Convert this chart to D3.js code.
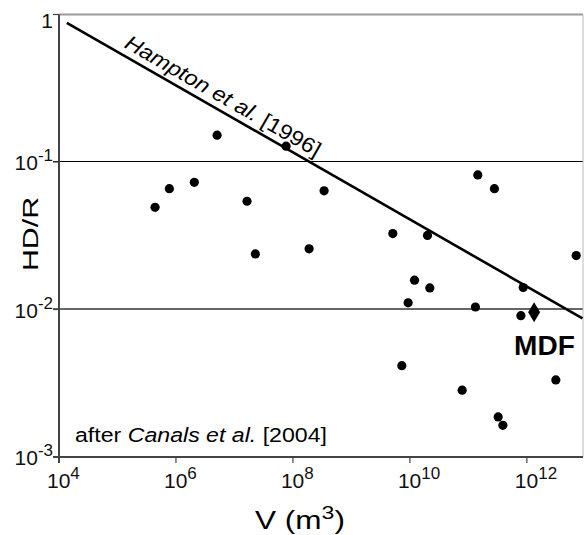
<!DOCTYPE html>
<html><head><meta charset="utf-8">
<script src="https://cdn.jsdelivr.net/npm/d3@7"></script>
<style>body{margin:0;background:#fff}svg{display:block;font-family:"Liberation Sans",Arial,Helvetica,sans-serif}</style>
</head><body><svg id="c" width="585" height="535"></svg>
<script>
// Landslide volume V (m3) vs HD/R
const volumes = [4.39e5, 7.71e5, 2.06e6, 5.05e6, 1.64e7, 2.28e7, 7.64e7, 1.89e8, 3.41e8,
  5.11e9, 2.0e10, 1.20e10, 2.19e10, 9.33e9, 7.28e9, 7.83e10, 1.32e11, 1.45e11, 2.79e11,
  3.23e11, 3.89e11, 8.65e11, 7.91e11, 3.13e12, 6.98e12];
const ratios = [0.0493, 0.0659, 0.0728, 0.152, 0.0542, 0.0238, 0.128, 0.0258, 0.0638,
  0.0327, 0.0318, 0.0158, 0.0140, 0.0111, 0.00416, 0.00284, 0.0104, 0.0817, 0.0659,
  0.00187, 0.00164, 0.0141, 0.00908, 0.00333, 0.0232];
const mdfVolume = [1.33e12];
const mdfRatio = [0.00957];
const mdfLabel = ["MDF"];
const hamptonV = [1.36e4, 8.93e12];
const hamptonR = [0.879, 0.00871];
const xTickExps = [4, 6, 8, 10, 12];
const yTickExps = [0, -1, -2, -3];
const gridExps = [-1, -2];

const svg = d3.select("#c");
const L = 59, R = 583, T = 14.5, B = 457;
const x = d3.scaleLog().domain([1e4, Math.pow(10, 12.96)]).range([L, R]);
const y = d3.scaleLog().domain([1e-3, 1]).range([B, T]);

// grid lines
svg.selectAll("line.grid").data(gridExps).enter().append("line")
  .attr("x1", L - 6).attr("x2", R)
  .attr("y1", d => y(Math.pow(10, d)) - 0.5).attr("y2", d => y(Math.pow(10, d)) - 0.5)
  .attr("stroke", d => d === -1 ? "#000" : "#666")
  .attr("stroke-width", d => d === -1 ? 1 : 2);

// frame
svg.append("line").attr("x1", L).attr("x2", R).attr("y1", T).attr("y2", T)
  .attr("stroke", "#9a9a9a").attr("stroke-width", 2.2);
svg.append("line").attr("x1", R).attr("x2", R).attr("y1", T).attr("y2", B)
  .attr("stroke", "#bbb").attr("stroke-width", 1);
svg.append("line").attr("x1", L - 6).attr("x2", R).attr("y1", B).attr("y2", B)
  .attr("stroke", "#444").attr("stroke-width", 2);
svg.append("line").attr("x1", L).attr("x2", L).attr("y1", T).attr("y2", B + 6)
  .attr("stroke", "#444").attr("stroke-width", 2);

// ticks
svg.selectAll("line.xt").data(xTickExps).enter().append("line")
  .attr("x1", d => x(Math.pow(10, d))).attr("x2", d => x(Math.pow(10, d)))
  .attr("y1", B).attr("y2", B + 6).attr("stroke", "#444").attr("stroke-width", 1.2);
svg.selectAll("line.yt").data(yTickExps).enter().append("line")
  .attr("x1", L - 6).attr("x2", L)
  .attr("y1", d => y(Math.pow(10, d))).attr("y2", d => y(Math.pow(10, d)))
  .attr("stroke", "#444").attr("stroke-width", 1.2);

// x tick labels
const xl = svg.selectAll("text.xl").data(xTickExps).enter().append("text")
  .attr("x", d => x(Math.pow(10, d)) - 12).attr("y", B + 31)
  .attr("font-size", 21).attr("fill", "#111");
xl.append("tspan").text("10");
xl.append("tspan").attr("dy", -9).attr("font-size", 17).text(d => d);

// y tick labels
const yl = svg.selectAll("text.yl").data(yTickExps).enter().append("text")
  .attr("x", 53).attr("y", d => y(Math.pow(10, d)) + (d === 0 ? 13 : 8))
  .attr("text-anchor", "end").attr("font-size", 21).attr("fill", "#111");
yl.each(function(d) {
  const t = d3.select(this);
  if (d === 0) { t.append("tspan").text("1"); }
  else {
    t.append("tspan").text("10");
    t.append("tspan").attr("dy", -9).attr("font-size", 17).text("-" + Math.abs(d));
  }
});

// Hampton line
const p0 = [x(hamptonV[0]), y(hamptonR[0])];
const p1 = [x(hamptonV[1]), y(hamptonR[1])];
svg.append("line").attr("x1", p0[0]).attr("y1", p0[1]).attr("x2", p1[0]).attr("y2", p1[1])
  .attr("stroke", "#000").attr("stroke-width", 2.6);
const ang = Math.atan2(p1[1] - p0[1], p1[0] - p0[0]);
const s0 = 61;
const hp = [p0[0] + s0 * Math.cos(ang), p0[1] + s0 * Math.sin(ang)];
const ht = svg.append("text")
  .attr("transform", `translate(${hp[0]},${hp[1]}) rotate(${ang * 180 / Math.PI})`)
  .attr("x", 0).attr("y", -7).attr("font-size", 21).attr("fill", "#000")
  .attr("textLength", 222).attr("lengthAdjust", "spacingAndGlyphs");
ht.append("tspan").attr("font-style", "italic").text("Hampton et al.");
ht.append("tspan").text(" [1996]");

// points
svg.selectAll("circle.pt").data(volumes).enter().append("circle")
  .attr("cx", d => x(d)).attr("cy", (d, i) => y(ratios[i])).attr("r", 4.6).attr("fill", "#000");

// MDF diamond
svg.selectAll("path.mdf").data(mdfVolume).enter().append("path")
  .attr("transform", (d, i) => `translate(${x(d)},${y(mdfRatio[i])})`)
  .attr("d", "M0,-10L6,0L0,10L-6,0Z").attr("fill", "#000");
svg.selectAll("text.mdf").data(mdfVolume).enter().append("text")
  .attr("x", d => x(d) - 20).attr("y", (d, i) => y(mdfRatio[i]) + 43)
  .attr("font-size", 28).attr("font-weight", "bold").attr("fill", "#000")
  .text((d, i) => mdfLabel[i]);

// source note
const cn = svg.append("text").attr("x", 75).attr("y", 442).attr("font-size", 20).attr("fill", "#000")
  .attr("textLength", 252).attr("lengthAdjust", "spacingAndGlyphs");
cn.append("tspan").text("after ");
cn.append("tspan").attr("font-style", "italic").text("Canals et al.");
cn.append("tspan").text(" [2004]");

// axis titles
svg.append("text").attr("transform", "translate(38,234) rotate(-90)")
  .attr("text-anchor", "middle").attr("font-size", 22).attr("fill", "#000")
  .attr("textLength", 74).attr("lengthAdjust", "spacingAndGlyphs").text("HD/R");
const vt = svg.append("text").attr("x", 255).attr("y", 529).attr("font-size", 26).attr("fill", "#000")
  .attr("textLength", 90).attr("lengthAdjust", "spacingAndGlyphs");
vt.append("tspan").text("V (m");
vt.append("tspan").attr("dy", -10).attr("font-size", 19).text("3");
vt.append("tspan").attr("dy", 10).text(")");
</script></body></html>
